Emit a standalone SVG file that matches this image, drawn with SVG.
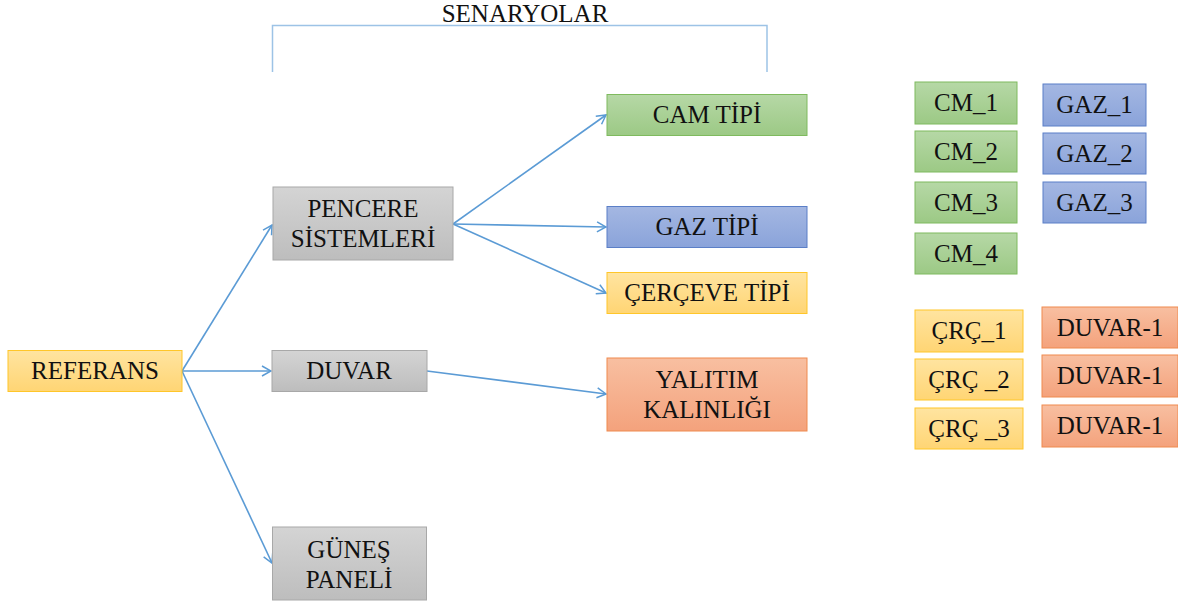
<svg xmlns="http://www.w3.org/2000/svg" width="1178" height="602" viewBox="0 0 1178 602">
<defs>
<linearGradient id="gGreen" x1="0" y1="0" x2="0" y2="1"><stop offset="0" stop-color="#b6d8a6"/><stop offset="1" stop-color="#9cc985"/></linearGradient>
<linearGradient id="gBlue" x1="0" y1="0" x2="0" y2="1"><stop offset="0" stop-color="#a4b7e2"/><stop offset="1" stop-color="#8aa3da"/></linearGradient>
<linearGradient id="gYellow" x1="0" y1="0" x2="0" y2="1"><stop offset="0" stop-color="#ffe4a0"/><stop offset="1" stop-color="#ffd574"/></linearGradient>
<linearGradient id="gOrange" x1="0" y1="0" x2="0" y2="1"><stop offset="0" stop-color="#f8bfa1"/><stop offset="1" stop-color="#f4a27c"/></linearGradient>
<linearGradient id="gGray" x1="0" y1="0" x2="0" y2="1"><stop offset="0" stop-color="#d4d4d4"/><stop offset="1" stop-color="#bdbdbd"/></linearGradient>
<marker id="arr" viewBox="0 0 12 12" refX="11" refY="6" markerWidth="12" markerHeight="12" markerUnits="userSpaceOnUse" orient="auto">
<path d="M2,1 L11,6 L2,11" fill="none" stroke="#5b9bd5" stroke-width="1.5"/>
</marker>
</defs>
<style>
text{font-family:"Liberation Serif","Times New Roman",serif;font-size:25px;fill:#111;text-anchor:middle}
.green{fill:url(#gGreen);stroke:#7fba5e;stroke-width:1}
.blue{fill:url(#gBlue);stroke:#5b7fc7;stroke-width:1}
.yellow{fill:url(#gYellow);stroke:#ffc629;stroke-width:1}
.orange{fill:url(#gOrange);stroke:#ef8a4f;stroke-width:1}
.gray{fill:url(#gGray);stroke:#a8a8a8;stroke-width:1}
.conn{stroke:#5b9bd5;stroke-width:1.6;fill:none;marker-end:url(#arr)}
</style>
<rect width="1178" height="602" fill="#ffffff"/>

<g id="senaryolar">
<text x="525" y="22">SENARYOLAR</text>
<path d="M272.5,72 V25.5 H767 V72" fill="none" stroke="#9dc3e6" stroke-width="1.5"/>
</g>

<g id="connectors">
<line class="conn" x1="182" y1="371" x2="272" y2="225"/>
<line class="conn" x1="182" y1="371" x2="271" y2="371"/>
<line class="conn" x1="182" y1="371" x2="272" y2="563"/>
<line class="conn" x1="453" y1="224" x2="606" y2="115"/>
<line class="conn" x1="453" y1="224" x2="606" y2="227"/>
<line class="conn" x1="453" y1="224" x2="606" y2="293"/>
<line class="conn" x1="427" y1="371" x2="606" y2="394"/>
</g>

<g id="referans"><rect class="yellow" x="8" y="350.5" width="174" height="41"/><text x="95" y="379">REFERANS</text></g>
<g id="pencere"><rect class="gray" x="273" y="187" width="180" height="73"/><text x="363" y="217">PENCERE</text><text x="363" y="247">SİSTEMLERİ</text></g>
<g id="duvar"><rect class="gray" x="272" y="350.5" width="155" height="41"/><text x="349" y="379">DUVAR</text></g>
<g id="gunes"><rect class="gray" x="272.5" y="527" width="154" height="73"/><text x="349" y="558">GÜNEŞ</text><text x="349" y="588">PANELİ</text></g>
<g id="cam"><rect class="green" x="607" y="94.5" width="200" height="41"/><text x="707" y="123">CAM TİPİ</text></g>
<g id="gaz"><rect class="blue" x="607" y="206.5" width="200" height="41"/><text x="707" y="235">GAZ TİPİ</text></g>
<g id="cerceve"><rect class="yellow" x="607" y="272.5" width="200" height="41"/><text x="707" y="301">ÇERÇEVE TİPİ</text></g>
<g id="yalitim"><rect class="orange" x="607" y="358" width="200" height="73"/><text x="707" y="388">YALITIM</text><text x="707" y="418">KALINLIĞI</text></g>

<g id="cm1"><rect class="green" x="915" y="82" width="102" height="42"/><text x="966" y="111">CM_1</text></g>
<g id="cm2"><rect class="green" x="915" y="131" width="102" height="41"/><text x="966" y="160">CM_2</text></g>
<g id="cm3"><rect class="green" x="915" y="182" width="102" height="41"/><text x="966" y="211">CM_3</text></g>
<g id="cm4"><rect class="green" x="915" y="233" width="102" height="41"/><text x="966" y="262">CM_4</text></g>

<g id="gaz1"><rect class="blue" x="1043" y="84" width="103" height="42"/><text x="1094.5" y="113">GAZ_1</text></g>
<g id="gaz2"><rect class="blue" x="1043" y="133" width="103" height="41"/><text x="1094.5" y="162">GAZ_2</text></g>
<g id="gaz3"><rect class="blue" x="1043" y="182" width="103" height="41"/><text x="1094.5" y="211">GAZ_3</text></g>

<g id="crc1"><rect class="yellow" x="915" y="310" width="108" height="42"/><text x="969" y="339">ÇRÇ_1</text></g>
<g id="crc2"><rect class="yellow" x="915" y="359" width="108" height="41"/><text x="969" y="388">ÇRÇ _2</text></g>
<g id="crc3"><rect class="yellow" x="915" y="408" width="108" height="41"/><text x="969" y="437">ÇRÇ _3</text></g>

<g id="duvar1a"><rect class="orange" x="1042" y="307" width="136" height="41"/><text x="1110" y="336">DUVAR-1</text></g>
<g id="duvar1b"><rect class="orange" x="1042" y="355" width="136" height="42"/><text x="1110" y="384">DUVAR-1</text></g>
<g id="duvar1c"><rect class="orange" x="1042" y="405" width="136" height="42"/><text x="1110" y="434">DUVAR-1</text></g>
</svg>
